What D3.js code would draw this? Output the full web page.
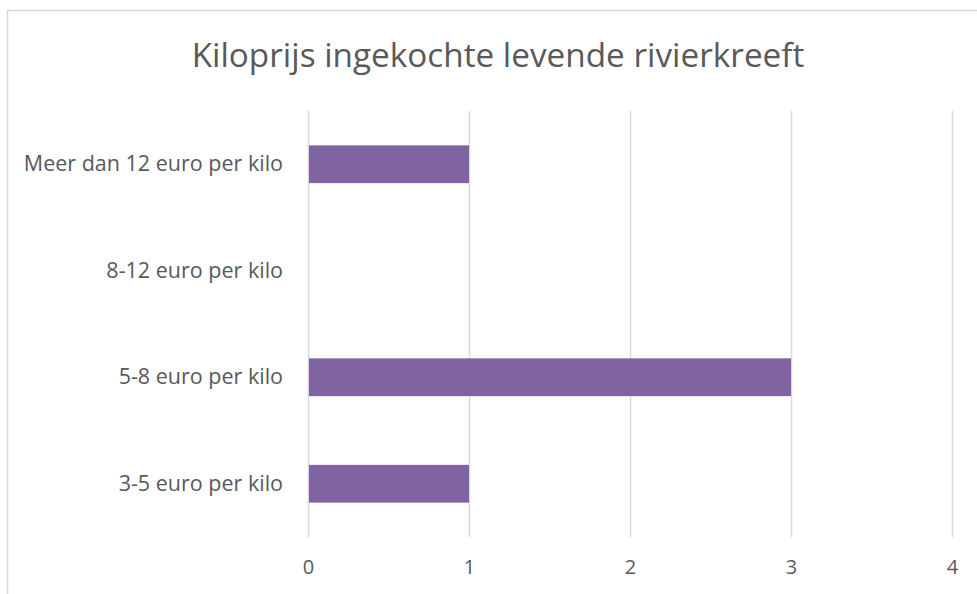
<!DOCTYPE html>
<html>
<head>
<meta charset="utf-8">
<script src="https://cdn.jsdelivr.net/npm/d3@7"></script>
<style>
  body { margin: 0; background: #fff; }
  text { font-family: "Open Sans", sans-serif; fill: #595959; }
</style>
</head>
<body>
<svg id="chart" width="977" height="594"></svg>
<script>
const categories = ["Meer dan 12 euro per kilo", "8-12 euro per kilo", "5-8 euro per kilo", "3-5 euro per kilo"];
const values = [1, 0, 3, 1];
const xTicks = [0, 1, 2, 3, 4];
const title = "Kiloprijs ingekochte levende rivierkreeft";

const margin = {top: 111, right: 24, bottom: 57, left: 308};
const width = 977 - margin.left - margin.right;
const height = 594 - margin.top - margin.bottom;

const svg = d3.select("#chart");

// chart border (cut off at right and bottom like the reference)
svg.append("rect")
    .attr("x", 7.5)
    .attr("y", 10.5)
    .attr("width", 1000)
    .attr("height", 1000)
    .attr("fill", "none")
    .attr("stroke", "#d9d9d9")
    .attr("stroke-width", 1.5);

const g = svg.append("g")
    .attr("transform", "translate(" + margin.left + "," + margin.top + ")");

const x = d3.scaleLinear()
    .domain([0, 4])
    .range([0, width - 1]);

const y = d3.scaleBand()
    .domain(categories)
    .range([0, height])
    .paddingInner(0.645)
    .paddingOuter(0.3225);

// gridlines
g.selectAll(".grid")
    .data(xTicks)
    .enter().append("line")
    .attr("class", "grid")
    .attr("x1", d => Math.round(x(d)) + 0.5)
    .attr("x2", d => Math.round(x(d)) + 0.5)
    .attr("y1", 0)
    .attr("y2", height)
    .attr("stroke", "#d9d9d9")
    .attr("stroke-width", 1.5);

// bars
g.selectAll(".bar")
    .data(values)
    .enter().append("rect")
    .attr("class", "bar")
    .attr("x", x(0) + 1)
    .attr("y", (d, i) => y(categories[i]))
    .attr("width", d => Math.max(0, x(d) - x(0) - 1))
    .attr("height", y.bandwidth())
    .attr("fill", "#8064a2");

// x axis labels
const xAxis = d3.axisBottom(x).tickValues(xTicks).tickFormat(d3.format("d")).tickSize(0).tickPadding(23);
g.append("g")
    .attr("transform", "translate(0," + height + ")")
    .call(xAxis)
    .call(a => a.select(".domain").remove())
    .selectAll("text")
    .style("font-size", "20px")
    .attr("fill", "#595959")
    .style("font-family", "'Open Sans', sans-serif");

// y axis labels
const yAxis = d3.axisLeft(y).tickSize(0).tickPadding(25);
g.append("g")
    .call(yAxis)
    .call(a => a.select(".domain").remove())
    .selectAll("text")
    .style("font-size", "21.5px")
    .attr("fill", "#595959")
    .style("font-family", "'Open Sans', sans-serif");

// title
const t = svg.append("text")
    .attr("x", 498)
    .attr("y", 67)
    .attr("text-anchor", "middle")
    .style("font-size", "33px")
    .text(title);
const tw = t.node().getComputedTextLength();
t.style("font-size", (33 * 613 / tw) + "px");
</script>
</body>
</html>
